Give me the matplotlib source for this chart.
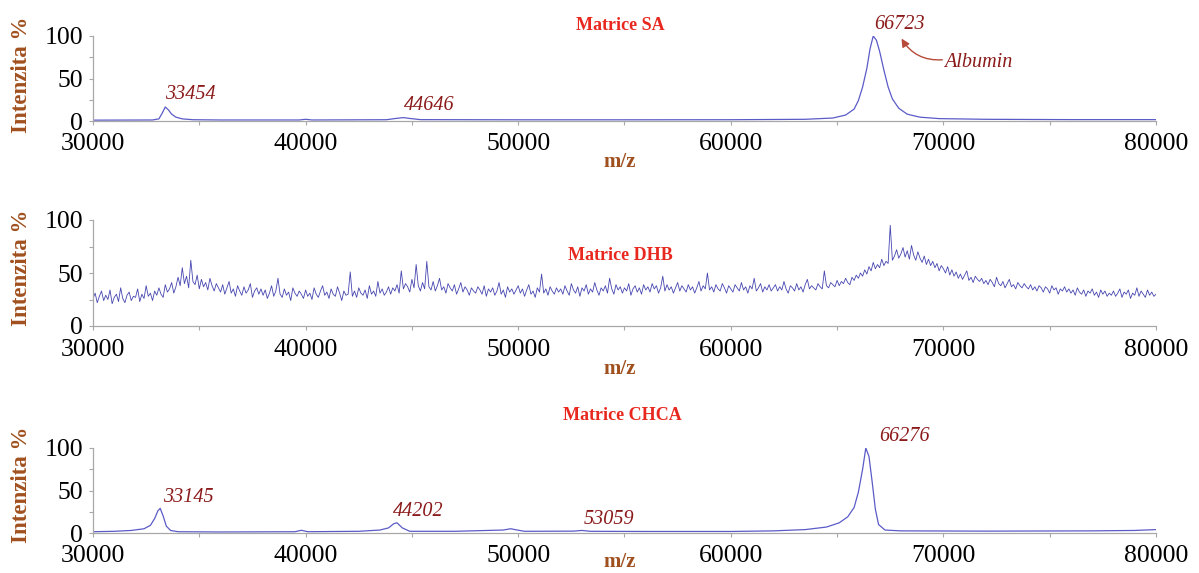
import numpy as np
import matplotlib
matplotlib.use("Agg")
import matplotlib.pyplot as plt
from matplotlib.ticker import MultipleLocator

plt.rcParams['font.family'] = ['Liberation Serif', 'DejaVu Serif']

# ---------------- data ----------------
sa_mz = [30000, 32800, 33100, 33250, 33400, 33550, 33700, 33900, 34200, 34700,
         36000, 39700, 40000, 40300, 43800, 44300, 44600, 44900, 45400, 50000,
         55000, 60000, 63500, 64800, 65400, 65800, 66000, 66200, 66400, 66550,
         66700, 66850, 67000, 67200, 67400, 67600, 67900, 68300, 68900, 69800,
         72000, 76000, 80000]
sa_int = [1.0, 1.2, 2.5, 9, 16.5, 13, 8, 4.5, 2.5, 1.5,
          1.2, 1.2, 2.0, 1.2, 1.5, 3.2, 4.0, 3.0, 1.6, 1.4,
          1.4, 1.5, 2.0, 3.5, 7, 14, 24, 40, 62, 85,
          100, 95, 82, 60, 40, 26, 15, 8, 4.5, 2.8,
          2.0, 1.6, 1.6]

dhb_start = 30000
dhb_step = 100
dhb_int = [
    26, 31, 22, 28, 33, 24, 29, 25, 34, 21, 27, 30, 23, 36, 26, 22, 29, 32, 24, 28,
    27, 35, 23, 30, 26, 38, 28, 31, 24, 33, 29, 36, 30, 27, 39, 32, 35, 41, 31, 37,
    46, 38, 55, 40, 47, 36, 62, 42, 39, 48, 35, 44, 37, 41, 34, 45, 38, 33, 40, 36,
    32, 39, 30, 36, 42, 31, 35, 28, 38, 33, 29, 37, 31, 34, 40, 27, 33, 36, 30, 35,
    29, 34, 26, 31, 38, 28, 33, 45, 30, 27, 35, 29, 32, 24, 36, 31, 28, 33, 30, 26,
    34, 28, 31, 25, 36, 30, 27, 33, 38, 29, 32, 26, 35, 30, 28, 37, 31, 24, 33, 29,
    30, 51, 28, 33, 27, 36, 31, 29, 34, 26, 38, 30, 33, 28, 42, 31, 35, 29, 32, 37,
    30, 36, 33, 39, 31, 52, 35, 40, 37, 32, 44, 36, 58, 38, 33, 41, 35, 61, 37, 34,
    42, 33, 38, 45, 34, 37, 31, 40, 36, 33, 39, 30, 35, 41, 32, 37, 34, 29, 36, 33,
    31, 37, 34, 30, 38, 28, 35, 32, 36, 29, 33, 41, 30, 34, 27, 37, 32, 35, 30, 34,
    38, 31, 35, 28, 34, 39, 30, 33, 27, 36, 32, 49, 31, 35, 29, 37, 33, 30, 36, 32,
    35, 30, 38, 33, 29, 40, 34, 31, 37, 28, 36, 33, 39, 30, 35, 32, 41, 34, 29, 36,
    33, 38, 31, 45, 35, 30, 39, 34, 37, 31, 36, 33, 40, 29, 35, 38, 32, 36, 30, 39,
    34, 37, 32, 40, 35, 38, 31, 36, 47, 33, 39, 34, 37, 31, 36, 41, 33, 38, 35, 32,
    39, 34, 37, 31, 36, 42, 33, 38, 35, 50, 34, 37, 32, 39, 35, 33, 40, 36, 31, 38,
    35, 32, 39, 36, 33, 41, 34, 37, 31, 38, 35, 45, 33, 36, 40, 32, 37, 34, 39, 33,
    36, 39, 33, 37, 34, 42, 35, 31, 38, 36, 33, 40, 34, 37, 32, 39, 44, 35, 38, 36,
    34, 40, 37, 35, 52, 38, 36, 41, 39, 37, 43, 38, 42, 40, 45, 41, 39, 46, 43, 48,
    45, 50, 47, 53, 49, 56, 52, 60, 54, 58, 55, 63, 57, 61, 59, 95, 62, 66, 72, 64,
    68, 74, 65, 71, 63, 76, 67, 62, 70, 64, 60, 66, 58, 63, 57, 61, 55, 59, 52, 57,
    54, 50, 56, 48, 53, 47, 51, 45, 49, 44, 48, 52, 43, 46, 41, 47, 44, 42, 45, 40,
    43, 39, 44, 41, 37, 46, 40, 38, 42, 36, 40, 44, 37, 39, 35, 41, 38, 36, 40, 37,
    35, 39, 34, 37, 33, 38, 36, 32, 37, 35, 31, 38, 34, 36, 30, 35, 33, 37, 32, 35,
    31, 34, 29, 36, 32, 30, 34, 28, 33, 31, 35, 29, 32, 27, 34, 30, 33, 28, 31, 29,
    33, 28, 31, 35, 27, 32, 30, 34, 26, 31, 29, 36, 28, 33, 30, 27, 34, 29, 32, 28,
    30]

ch_mz = [30000, 31000, 31800, 32400, 32700, 32900, 33050, 33160, 33300, 33450,
         33650, 34000, 36000, 39500, 39800, 40100, 42500, 43500, 43900, 44150,
         44300, 44550, 44900, 47000, 49300, 49650, 49950, 50300, 52600, 53000,
         53400, 56000, 60000, 62000, 63500, 64500, 65100, 65500, 65800, 66000,
         66200, 66350, 66500, 66650, 66800, 66950, 67250, 68000, 72000, 77000,
         79000, 80000]
ch_int = [1.5, 2, 3, 5, 9, 17, 26, 29, 20, 8,
          3, 1.5, 1.2, 1.5, 3.2, 1.5, 2, 3.5, 6, 11,
          12, 6, 2, 2, 3.5, 5, 3.5, 2, 2.2, 3,
          2, 1.8, 1.8, 2.5, 4, 7, 12, 19, 30, 48,
          75, 100, 90, 60, 28, 10, 3.5, 2.5, 2.2, 2.5,
          3, 4]

xticks = [30000, 40000, 50000, 60000, 70000, 80000]
yticks = [0, 50, 100]

# ---------------- style ----------------
W, H = 1199, 573
line_col = '#5b5bc8'
dhb_col = '#4646b0'
title_col = '#e8281e'
axis_lab_col = '#a0501e'
ann_col = '#8b1a1a'
spine_col = '#a8a8a8'

fig = plt.figure(figsize=(W / 100, H / 100), dpi=100)

def px_axes(x0, x1, y0, y100):
    return fig.add_axes([x0 / W, 1 - y0 / H, (x1 - x0) / W, (y0 - y100) / H])

def style(ax):
    ax.set_xlim(30000, 80000)
    ax.set_ylim(0, 100)
    for s in ['top', 'right']:
        ax.spines[s].set_visible(False)
    for s in ['left', 'bottom']:
        ax.spines[s].set_color(spine_col)
        ax.spines[s].set_linewidth(0.9)
    ax.set_xticks(xticks)
    ax.set_yticks(yticks)
    ax.xaxis.set_minor_locator(MultipleLocator(5000))
    ax.yaxis.set_minor_locator(MultipleLocator(25))
    ax.tick_params(axis='both', which='both', colors=spine_col, labelcolor='black',
                   labelsize=18.5, length=3, width=0.8)
    ax.tick_params(axis='x', which='major', pad=6)
    ax.tick_params(axis='y', which='major', pad=4)
    ax.set_facecolor('none')

# panel 1
ax1 = px_axes(93, 1156, 121, 36)
ax1.plot(sa_mz, sa_int, color=line_col, lw=0.9)
style(ax1)
ax1.text(34570, 31, '33454', fontsize=14.5, style='italic', color=ann_col, ha='center', va='center')
ax1.text(45800, 18, '44646', fontsize=14.5, style='italic', color=ann_col, ha='center', va='center')
ax1.text(67920, 113, '66723', fontsize=14.5, style='italic', color=ann_col, ha='center', va='center', clip_on=False)
ax1.text(71650, 69, 'Albumin', fontsize=14.5, style='italic', color=ann_col, ha='center', va='center')
ax1.annotate('', xy=(68030, 97), xytext=(69950, 72), annotation_clip=False,
             arrowprops=dict(arrowstyle='-|>', color='#b84a3a', lw=1.0,
                             connectionstyle='arc3,rad=-0.3', shrinkA=0, shrinkB=0,
                             mutation_scale=12))

# panel 2
ax2 = px_axes(93, 1156, 326, 220)
dhb_mz = [dhb_start + i * dhb_step for i in range(len(dhb_int))]
ax2.plot(dhb_mz, dhb_int, color=dhb_col, lw=0.6)
style(ax2)

# panel 3
ax3 = px_axes(93, 1156, 533, 448)
ax3.plot(ch_mz, ch_int, color=line_col, lw=0.9)
style(ax3)
ax3.text(34480, 42, '33145', fontsize=14.5, style='italic', color=ann_col, ha='center', va='center')
ax3.text(45320, 25, '44202', fontsize=14.5, style='italic', color=ann_col, ha='center', va='center')
ax3.text(54270, 16, '53059', fontsize=14.5, style='italic', color=ann_col, ha='center', va='center')
ax3.text(68170, 113, '66276', fontsize=14.5, style='italic', color=ann_col, ha='center', va='center', clip_on=False)

# figure texts
def ftext(px, py, s, **kw):
    fig.text(px / W, 1 - py / H, s, ha='center', va='center', **kw)

ftext(620, 26, 'Matrice SA', fontsize=13, fontweight='bold', color=title_col)
ftext(620, 255, 'Matrice DHB', fontsize=13, fontweight='bold', color=title_col)
ftext(622, 415, 'Matrice CHCA', fontsize=13, fontweight='bold', color=title_col)

for py in (162, 369, 562):
    ftext(620, py, 'm/z', fontsize=15, fontweight='bold', color=axis_lab_col)

for py in (75, 268, 485):
    ftext(22, py, 'Intenzita %', fontsize=16.5, fontweight='bold', color=axis_lab_col, rotation=90)

fig.savefig('out.png', dpi=100)
